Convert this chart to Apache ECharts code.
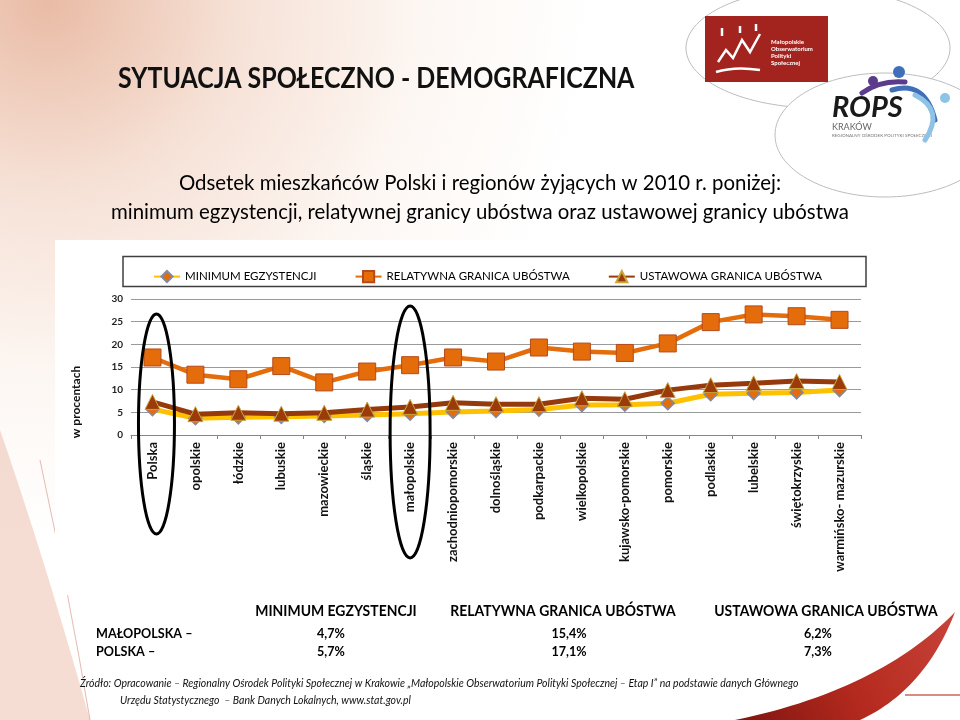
<!DOCTYPE html>
<html><head><meta charset="utf-8">
<script src="https://cdn.jsdelivr.net/npm/echarts@6/dist/echarts.min.js"></script>
<style>html,body{margin:0;padding:0;background:#fff}#c{width:960px;height:720px}</style>
</head><body><div id="c"></div>
<script>
const categories = ['Polska','opolskie','łódzkie','lubuskie','mazowieckie','śląskie','małopolskie','zachodniopomorskie','dolnośląskie','podkarpackie','wielkopolskie','kujawsko-pomorskie','pomorskie','podlaskie','lubelskie','świętokrzyskie','warmińsko- mazurskie'];
const minimumEgzystencji = [5.7,3.7,3.9,4.0,4.2,4.4,4.7,5.1,5.3,5.6,6.6,6.7,7.0,9.0,9.2,9.4,9.9];
const relatywnaGranica = [17.1,13.3,12.3,15.2,11.6,14.0,15.4,17.1,16.2,19.3,18.4,18.1,20.2,24.9,26.6,26.2,25.4];
const ustawowaGranica = [7.3,4.6,4.9,4.7,4.9,5.6,6.2,7.1,6.8,6.8,8.1,7.9,9.9,11.0,11.4,11.9,11.7];
const seriesNames = ['MINIMUM EGZYSTENCJI','RELATYWNA GRANICA UBÓSTWA','USTAWOWA GRANICA UBÓSTWA'];
const yTicks = [0,5,10,15,20,25,30];
const tableRows = ['MAŁOPOLSKA –','POLSKA –'];
const tableMalopolska = ['4,7%','15,4%','6,2%'];
const tablePolska = ['5,7%','17,1%','7,3%'];
const highlighted = ['Polska','małopolskie'];

const F = 'Lato, "Open Sans", sans-serif';
const chart = echarts.init(document.getElementById('c'), null, {renderer:'canvas'});

const grid = {left:131, right:99, top:299, bottom:285};

const option = {
  backgroundColor: '#ffffff',
  animation: false,
  textStyle: {fontFamily: F},
  legend: {
    left: 148, top: 265, itemWidth: 26, itemHeight: 14, itemGap: 38,
    data: seriesNames,
    textStyle: {fontFamily: F, fontSize: 11.5, color: '#000'}
  },
  grid: grid,
  xAxis: {
    type: 'category', data: categories, boundaryGap: true,
    axisLine: {lineStyle: {color: '#868686', width: 1}},
    axisTick: {show: true, length: 4, lineStyle: {color: '#868686'}},
    axisLabel: {rotate: 90, interval: 0, fontFamily: F, fontSize: 13, fontWeight: 'bold', color: '#111', margin: 7}
  },
  yAxis: {
    type: 'value', min: 0, max: 30, interval: 5,
    axisLine: {show: false}, axisTick: {show: false},
    splitLine: {lineStyle: {color: '#9a9a9a', width: 1}},
    axisLabel: {fontFamily: F, fontSize: 10, fontWeight: 'bold', color: '#222', margin: 8,
      formatter: v => yTicks.includes(v) ? String(v) : ''}
  },
  series: [
    {name: seriesNames[0], type: 'line', data: minimumEgzystencji, z: 3,
     lineStyle: {color: '#FFC000', width: 5}, symbol: 'diamond', symbolSize: 13,
     itemStyle: {color: '#E46C0A', borderColor: '#7F8AA6', borderWidth: 1.5}},
    {name: seriesNames[1], type: 'line', data: relatywnaGranica, z: 4,
     lineStyle: {color: '#E46C0A', width: 4.5}, symbol: 'rect', symbolSize: 17,
     itemStyle: {color: '#E46C0A', borderColor: '#B64A1A', borderWidth: 1}},
    {name: seriesNames[2], type: 'line', data: ustawowaGranica, z: 5,
     lineStyle: {color: '#963A0E', width: 5}, symbol: 'triangle', symbolSize: 15,
     itemStyle: {color: '#9C3B0A', borderColor: '#C9A53A', borderWidth: 1}}
  ]
};
chart.setOption(option);

function px(cat, val){ return chart.convertToPixel({xAxisIndex:0, yAxisIndex:0}, [cat, val]); }
const p0 = px(highlighted[0], 0);
const p1 = px(highlighted[1], 0);

function quad(a, c, b, n){
  const pts=[];
  for(let i=0;i<=n;i++){const t=i/n;
    pts.push([(1-t)*(1-t)*a[0]+2*(1-t)*t*c[0]+t*t*b[0],(1-t)*(1-t)*a[1]+2*(1-t)*t*c[1]+t*t*b[1]]);}
  return pts;
}
const swooshTop = quad([735,720],[880,690],[955,612],30);
const swooshBot = quad([955,612],[925,690],[860,720],30);
const swooshPts = swooshTop.concat(swooshBot);
const leftPts = quad([0,430],[45,560],[90,720],30).concat([[0,720]]);

const colX = [336, 563, 826];
const valX = [331, 569, 818];
const HF = 'bold 15px ' + F;
const TF = 'bold 14px ' + F;
const HS = 0.93, TS = 0.9;
const g = [
  {type:'rect', z:-30, shape:{x:0,y:0,width:960,height:720},
   style:{fill:{type:'radial', x:0.05, y:0.0, r:0.75, colorStops:[
     {offset:0,color:'#E9BBA5'},{offset:0.35,color:'#F6E1D6'},{offset:0.7,color:'#FDF7F3'},{offset:1,color:'#FFFFFF'}]}}},
  {type:'polygon', z:-29, shape:{points:leftPts}, style:{fill:'rgba(232,180,160,0.45)'}},
  {type:'bezierCurve', z:-29, shape:{x1:40,y1:460,cpx1:70,cpy1:600,x2:90,y2:720}, style:{fill:null, stroke:'rgba(200,120,100,0.5)', lineWidth:1}},
  {type:'rect', z:-20, shape:{x:55,y:240,width:818,height:355}, style:{fill:'#ffffff'}},
  {type:'rect', z:-5, shape:{x:123,y:256.5,width:743,height:30}, style:{fill:'#ffffff', stroke:'#3f3f3f', lineWidth:1.5}},
  {type:'polygon', z:-15, shape:{points:swooshPts},
   style:{fill:{type:'linear',x:0,y:1,x2:1,y2:0,colorStops:[{offset:0,color:'#7E1510'},{offset:0.5,color:'#B52A1E'},{offset:1,color:'#C8433A'}]}}},
  {type:'rect', z:-16, shape:{x:905,y:694,width:55,height:2}, style:{fill:'#D98C86'}},
  {type:'ellipse', z:-10, shape:{cx:818,cy:48,rx:132,ry:60}, style:{fill:'#ffffff', stroke:'#bdbdbd', lineWidth:1}},
  {type:'ellipse', z:-9, shape:{cx:885,cy:135,rx:110,ry:62}, style:{fill:'#ffffff', stroke:'#bdbdbd', lineWidth:1}},
  {type:'rect', z:-8, shape:{x:705,y:16,width:123,height:66}, style:{fill:'#A3231E'}},
  {type:'text', z:-7, x:771, y:39, style:{text:'Małopolskie\nObserwatorium\nPolityki\nSpołecznej', fill:'#ffffff', font:'bold 6px '+F, lineHeight:7}},
  {type:'polyline', z:-7, shape:{points:[[718,62],[726,50],[733,58],[742,40],[750,52],[760,34]]}, style:{stroke:'#ffffff', lineWidth:2.5, fill:null}},
  {type:'bezierCurve', z:-7, shape:{x1:716,y1:72,cpx1:735,cpy1:66,x2:760,y2:70}, style:{stroke:'#ffffff', lineWidth:2.5, fill:null}},
  {type:'line', z:-7, shape:{x1:722,y1:28,x2:722,y2:36}, style:{stroke:'#ffffff', lineWidth:2.5}},
  {type:'line', z:-7, shape:{x1:740,y1:26,x2:740,y2:33}, style:{stroke:'#ffffff', lineWidth:2.5}},
  {type:'line', z:-7, shape:{x1:756,y1:24,x2:756,y2:31}, style:{stroke:'#ffffff', lineWidth:2.5}},
  {type:'text', z:-7, x:832, y:93, style:{text:'ROPS', fill:'#1a1a1a', font:'italic bold 29px '+F}},
  {type:'text', z:-7, x:832, y:123, style:{text:'KRAKÓW', fill:'#666', font:'9px '+F}},
  {type:'text', z:-7, x:832, y:133, style:{text:'REGIONALNY OŚRODEK POLITYKI SPOŁECZNEJ', fill:'#777', font:'4.5px '+F}},
  {type:'circle', z:-7, shape:{cx:873,cy:81,r:5}, style:{fill:'#5B3B8C'}},
  {type:'circle', z:-7, shape:{cx:899,cy:72,r:6}, style:{fill:'#3E6FB8'}},
  {type:'circle', z:-7, shape:{cx:945,cy:98,r:5}, style:{fill:'#8EC3E6'}},
  {type:'bezierCurve', z:-7, shape:{x1:862,y1:93,cpx1:880,cpy1:80,x2:905,y2:82}, style:{stroke:'#5B3B8C', lineWidth:5, fill:null, lineCap:'round'}},
  {type:'bezierCurve', z:-7, shape:{x1:892,y1:90,cpx1:925,cpy1:80,x2:935,y2:120}, style:{stroke:'#3E6FB8', lineWidth:5, fill:null, lineCap:'round'}},
  {type:'bezierCurve', z:-7, shape:{x1:915,y1:95,cpx1:945,cpy1:110,x2:925,y2:140}, style:{stroke:'#8EC3E6', lineWidth:5, fill:null, lineCap:'round'}},
  {type:'text', x:118, y:79, scaleX:0.86, style:{text:'SYTUACJA SPOŁECZNO - DEMOGRAFICZNA', fill:'#111', font:'bold 29px '+F, verticalAlign:'middle'}},
  {type:'text', x:480, y:183, style:{text:'Odsetek mieszkańców Polski i regionów żyjących w 2010 r. poniżej:', fill:'#000', font:'20.4px '+F, align:'center', verticalAlign:'middle'}},
  {type:'text', x:480, y:212, style:{text:'minimum egzystencji, relatywnej granicy ubóstwa oraz ustawowej granicy ubóstwa', fill:'#000', font:'20.4px '+F, align:'center', verticalAlign:'middle'}},
  {type:'text', x:76, y:402, rotation:Math.PI/2, style:{text:'w procentach', fill:'#111', font:'bold 12px '+F, align:'center', verticalAlign:'middle'}},
  {type:'ellipse', z:100, shape:{cx:p0[0]+4, cy:424, rx:18, ry:110}, style:{fill:null, stroke:'#000', lineWidth:3}},
  {type:'ellipse', z:100, shape:{cx:p1[0], cy:432, rx:20, ry:126}, style:{fill:null, stroke:'#000', lineWidth:3}}
];
seriesNames.forEach((n,i)=>g.push({type:'text', x:colX[i], y:611, scaleX:HS, style:{text:n, fill:'#000', font:HF, align:'center', verticalAlign:'middle'}}));
tableRows.forEach((r,j)=>g.push({type:'text', x:96, y:633+j*18, scaleX:TS, style:{text:r, fill:'#000', font:TF, verticalAlign:'middle'}}));
tableMalopolska.forEach((v,i)=>g.push({type:'text', x:valX[i], y:633, scaleX:TS, style:{text:v, fill:'#000', font:TF, align:'center', verticalAlign:'middle'}}));
tablePolska.forEach((v,i)=>g.push({type:'text', x:valX[i], y:651, scaleX:TS, style:{text:v, fill:'#000', font:TF, align:'center', verticalAlign:'middle'}}));
g.push({type:'text', x:80, y:684, style:{text:'Źródło: Opracowanie – Regionalny Ośrodek Polityki Społecznej w Krakowie „Małopolskie Obserwatorium Polityki Społecznej – Etap I” na podstawie danych Głównego', fill:'#111', font:'italic 10.5px '+F, verticalAlign:'middle'}});
g.push({type:'text', x:120, y:701, style:{text:'Urzędu Statystycznego  – Bank Danych Lokalnych, www.stat.gov.pl', fill:'#111', font:'italic 10.5px '+F, verticalAlign:'middle'}});

chart.setOption({graphic: {elements: g}});
</script></body></html>
